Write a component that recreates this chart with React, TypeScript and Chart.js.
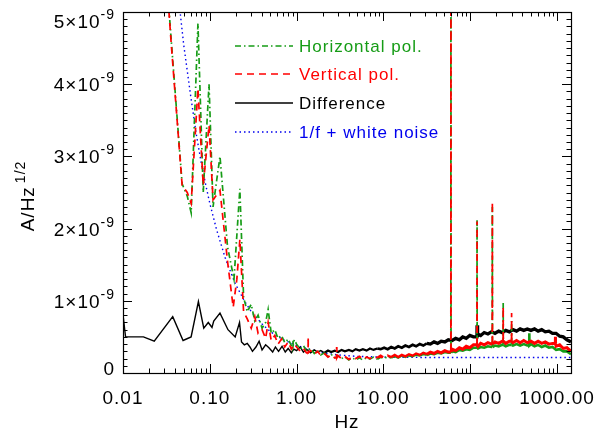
import React, { useEffect, useRef } from "react";
import { Chart, registerables } from "chart.js";
Chart.register(...registerables);

// Values in units of 1e-9 A/Hz^1/2, frequencies in Hz
const X_MIN = 0.01;
const X_MAX = 1450;
const Y_MIN = 0;
const Y_MAX = 5;

const X_TICK_VALUES = [0.01, 0.1, 1, 10, 100, 1000];
const X_TICK_LABELS = ["0.01", "0.10", "1.00", "10.00", "100.00", "1000.00"];
const Y_TICK_VALUES = [0, 1, 2, 3, 4, 5];
const Y_TICK_MANTISSA = ["0", "1", "2", "3", "4", "5"];

const SERIES_LABELS = ["Horizontal pol.", "Vertical pol.", "Difference", "1/f + white noise"];

const LOW_GREEN: [number, number][] = [
  [0.024, 7.5], [0.036, 4.6], [0.048, 2.62], [0.055, 2.45], [0.061, 2.22], [0.073, 4.84],
  [0.084, 2.5], [0.098, 4.0], [0.109, 2.3], [0.131, 3.0], [0.16, 1.75], [0.19, 1.3],
  [0.222, 2.55], [0.245, 1.05], [0.27, 0.85], [0.3, 0.95], [0.33, 0.72], [0.36, 0.8],
  [0.4, 0.62], [0.44, 0.7], [0.47, 0.88], [0.51, 0.55], [0.56, 0.6], [0.61, 0.48],
  [0.67, 0.52], [0.73, 0.42], [0.8, 0.47], [0.87, 0.38], [0.94, 0.46],
];
const LOW_RED: [number, number][] = [
  [0.024, 7.5], [0.036, 4.55], [0.048, 2.6], [0.055, 2.5], [0.061, 2.35], [0.073, 3.94],
  [0.084, 2.6], [0.098, 3.43], [0.109, 2.4], [0.131, 2.53], [0.16, 1.55], [0.186, 0.91],
  [0.205, 1.3], [0.222, 1.85], [0.245, 0.85], [0.27, 0.75], [0.3, 0.62], [0.33, 0.78],
  [0.36, 0.55], [0.4, 0.6], [0.44, 0.48], [0.47, 0.7], [0.51, 0.45], [0.56, 0.52],
  [0.61, 0.4], [0.67, 0.47], [0.73, 0.36], [0.8, 0.43], [0.87, 0.33], [0.94, 0.4],
];
const LOW_BLACK: [number, number][] = [
  [0.0098, 0.9], [0.0107, 0.5], [0.0172, 0.5], [0.0229, 0.44], [0.0374, 0.78], [0.0492, 0.45],
  [0.0609, 0.5], [0.0739, 0.99], [0.0852, 0.62], [0.096, 0.7], [0.106, 0.63], [0.111, 0.72],
  [0.131, 0.83], [0.162, 0.6], [0.196, 0.5], [0.22, 0.7], [0.232, 0.43], [0.25, 0.39],
  [0.27, 0.41], [0.29, 0.36], [0.31, 0.3], [0.34, 0.36], [0.37, 0.44], [0.4, 0.32],
  [0.44, 0.39], [0.48, 0.35], [0.53, 0.29], [0.57, 0.36], [0.62, 0.3], [0.68, 0.37],
  [0.74, 0.29], [0.8, 0.34], [0.87, 0.28], [0.93, 0.33],
];

const HF_FREQ = [
  1.0, 1.1, 1.2, 1.3, 1.45, 1.6, 1.75, 1.9, 2.1, 2.3, 2.5, 2.75, 3.0, 3.3, 3.6, 4.0, 4.4, 4.8,
  5.3, 5.8, 6.4, 7.0, 7.7, 8.5, 9.3, 10.2, 11.2, 12.3, 13.5, 14.8, 16.3, 17.9, 19.7, 21.7, 23.8,
  26.2, 28.8, 31.7, 34.8, 38.3, 42.1, 46.3, 51, 56, 62, 68, 75, 82, 90, 99, 109, 123, 132, 145,
  160, 176, 193, 213, 234, 257, 283, 311, 342, 376, 414, 455, 501, 551, 606, 667, 733, 807, 887,
  976, 1074, 1181, 1300, 1450,
];
const HF_RED = [
  0.36, 0.3, 0.34, 0.28, 0.31, 0.26, 0.3, 0.24, 0.27, 0.22, 0.25, 0.21, 0.24, 0.2, 0.23, 0.19, 0.22, 0.2,
  0.23, 0.19, 0.22, 0.2, 0.23, 0.21, 0.24, 0.21, 0.24, 0.22, 0.25, 0.22, 0.25, 0.23, 0.26, 0.24, 0.27,
  0.25, 0.28, 0.26, 0.29, 0.27, 0.3, 0.28, 0.31, 0.29, 0.33, 0.31, 0.35, 0.33, 0.37, 0.35, 0.39, 0.37, 0.41, 0.39,
  0.42, 0.4, 0.43, 0.41, 0.44, 0.41, 0.44, 0.42, 0.45, 0.42, 0.45, 0.42, 0.44, 0.41, 0.44, 0.41, 0.43, 0.4, 0.41,
  0.37, 0.39, 0.34, 0.35, 0.3,
];
const HF_GREEN = [
  0.4, 0.33, 0.38, 0.3, 0.34, 0.27, 0.31, 0.25, 0.28, 0.23, 0.26, 0.21, 0.24, 0.2, 0.22, 0.18, 0.21, 0.18,
  0.21, 0.18, 0.21, 0.19, 0.22, 0.19, 0.22, 0.2, 0.23, 0.21, 0.23, 0.21, 0.24, 0.22, 0.24, 0.23, 0.25,
  0.24, 0.26, 0.25, 0.27, 0.26, 0.28, 0.27, 0.29, 0.28, 0.3, 0.29, 0.32, 0.31, 0.33, 0.32, 0.35, 0.34, 0.36, 0.35,
  0.37, 0.36, 0.38, 0.37, 0.39, 0.37, 0.39, 0.38, 0.4, 0.38, 0.4, 0.38, 0.4, 0.37, 0.39, 0.36, 0.38, 0.35, 0.36,
  0.32, 0.33, 0.3, 0.3, 0.26,
];
const HF_BLACK = [
  0.31, 0.36, 0.29, 0.33, 0.28, 0.32, 0.29, 0.31, 0.28, 0.31, 0.29, 0.31, 0.29, 0.32, 0.3, 0.32, 0.3, 0.33,
  0.31, 0.33, 0.31, 0.34, 0.32, 0.34, 0.33, 0.35, 0.33, 0.36, 0.34, 0.37, 0.35, 0.38, 0.36, 0.39, 0.37,
  0.4, 0.38, 0.41, 0.4, 0.43, 0.41, 0.44, 0.43, 0.46, 0.45, 0.48, 0.46, 0.5, 0.48, 0.52, 0.5, 0.54, 0.52, 0.56,
  0.54, 0.57, 0.55, 0.58, 0.56, 0.59, 0.57, 0.6, 0.58, 0.61, 0.59, 0.61, 0.59, 0.61, 0.58, 0.6, 0.57, 0.58, 0.55,
  0.55, 0.51, 0.5, 0.46, 0.43,
];

const RED_SPIKES: [number, number][] = [
  [1.36, 0.5], [2.9, 0.36], [60, 7], [120, 2.1], [180, 2.37], [240, 0.92], [300, 0.83], [960, 0.5],
];
const GREEN_SPIKES: [number, number][] = [
  [0.91, 0.46], [60, 7], [120, 2.12], [180, 2.3], [240, 0.97], [300, 0.72], [480, 0.55],
];
const BLACK_SPIKES: [number, number][] = [[120, 0.66]];

const BLUE_MODEL: [number, number][] = [
  [0.04, 5.65], [0.045, 5.05], [0.05, 4.55], [0.06, 3.85], [0.07, 3.3], [0.08, 2.9], [0.09, 2.6],
  [0.1, 2.35], [0.12, 1.98], [0.15, 1.6], [0.18, 1.35], [0.2, 1.22], [0.25, 1.0], [0.3, 0.85],
  [0.4, 0.68], [0.5, 0.57], [0.7, 0.46], [1, 0.38], [1.5, 0.32], [2, 0.28], [3, 0.25], [5, 0.23],
  [10, 0.22], [30, 0.215], [100, 0.215], [1450, 0.215],
];

const GREEN = "#169c16";
const RED = "#ff0000";
const BLUE = "#0000ee";
const BLACK = "#000000";
const FONT = '"Liberation Sans", Arial, sans-serif';

function buildSeries(low: [number, number][], hfVals: number[], spikes: [number, number][]) {
  const pts: [number, number][] = [...low, ...HF_FREQ.map((f, i) => [f, hfVals[i]] as [number, number])];
  for (const [sf, peak] of spikes) {
    let idx = pts.findIndex((p) => p[0] > sf);
    if (idx < 0) idx = pts.length;
    const base = pts[Math.max(0, idx - 1)][1];
    pts.splice(idx, 0, [sf * 0.997, base], [sf, peak], [sf * 1.003, base]);
  }
  return pts.map(([x, y]) => ({ x, y }));
}

const notSpike = (c: any) => Math.max(c.p0.parsed.y, c.p1.parsed.y) < 0.7;
const bandWidth = (c: any, hi: number) => {
  const f = c.p0.parsed.x;
  if (!notSpike(c)) return undefined;
  if (f > 30) return hi;
  if (f > 8) return hi - 0.6;
  if (f > 2) return hi - 1.1;
  return undefined;
};

const axesPlugin = {
  id: "idlAxes",
  afterDatasetsDraw(chart: any) {
    const { ctx, chartArea } = chart;
    const { left, right, top, bottom } = chartArea;
    const xs = chart.scales.x;
    const ys = chart.scales.y;
    ctx.save();
    ctx.strokeStyle = "#000";
    ctx.fillStyle = "#000";
    ctx.lineWidth = 1.2;
    ctx.setLineDash([]);
    ctx.strokeRect(Math.round(left) + 0.5, Math.round(top) + 0.5, Math.round(right - left), Math.round(bottom - top));

    ctx.lineWidth = 1;
    ctx.beginPath();
    for (let d = 0.01; d <= 1000.0001; d *= 10) {
      for (let k = 1; k <= 9; k++) {
        const f = d * k;
        if (f < X_MIN - 1e-9 || f > X_MAX) continue;
        const px = Math.round(xs.getPixelForValue(f)) + 0.5;
        const len = k === 1 ? 9 : 4.5;
        ctx.moveTo(px, bottom);
        ctx.lineTo(px, bottom - len);
        ctx.moveTo(px, top);
        ctx.lineTo(px, top + len);
      }
    }
    for (let i = 0; i <= 50; i++) {
      const v = Y_MIN + i * 0.1;
      const py = Math.round(ys.getPixelForValue(v)) + 0.5;
      const len = i % 10 === 0 ? 9 : 4.5;
      ctx.moveTo(left, py);
      ctx.lineTo(left + len, py);
      ctx.moveTo(right, py);
      ctx.lineTo(right - len, py);
    }
    ctx.stroke();

    ctx.letterSpacing = "1px";
    ctx.font = `19px ${FONT}`;
    ctx.textAlign = "center";
    ctx.textBaseline = "alphabetic";
    X_TICK_VALUES.forEach((v, i) => {
      const px = xs.getPixelForValue(v);
      ctx.fillText(X_TICK_LABELS[i], px, 404);
    });
    ctx.fillText("Hz", (left + right) / 2, 428);

    ctx.textAlign = "left";
    Y_TICK_VALUES.forEach((v, i) => {
      let cy = ys.getPixelForValue(v);
      cy = Math.min(Math.max(cy, top + 9), bottom - 5);
      const main = v === 0 ? Y_TICK_MANTISSA[i] : `${Y_TICK_MANTISSA[i]}×10`;
      const sup = v === 0 ? "" : "-9";
      ctx.font = `19px ${FONT}`;
      const wMain = ctx.measureText(main).width;
      ctx.font = `14px ${FONT}`;
      const wSup = sup ? ctx.measureText(sup).width : 0;
      const rightEdge = 115;
      const x0 = rightEdge - wMain - wSup;
      ctx.font = `19px ${FONT}`;
      ctx.fillText(main, x0, cy + 7);
      if (sup) {
        ctx.font = `14px ${FONT}`;
        ctx.fillText(sup, x0 + wMain, cy - 2);
      }
    });

    ctx.save();
    ctx.translate(34, 196);
    ctx.rotate(-Math.PI / 2);
    ctx.font = `19px ${FONT}`;
    const tMain = "A/Hz";
    const wT = ctx.measureText(tMain).width;
    ctx.font = `14px ${FONT}`;
    const wS = ctx.measureText("1/2").width + 3;
    const sx = -(wT + wS) / 2;
    ctx.font = `19px ${FONT}`;
    ctx.fillText(tMain, sx, 0);
    ctx.font = `14px ${FONT}`;
    ctx.fillText("1/2", sx + wT + 3, -9);
    ctx.restore();

    const legend = [
      { color: GREEN, dash: [6, 3, 1.5, 3], width: 1.6, y: 46 },
      { color: RED, dash: [7, 5], width: 1.6, y: 74 },
      { color: BLACK, dash: [], width: 1.4, y: 103 },
      { color: BLUE, dash: [1.5, 3], width: 1.3, y: 132 },
    ];
    legend.forEach((l, i) => {
      ctx.beginPath();
      ctx.strokeStyle = l.color;
      ctx.lineWidth = l.width;
      ctx.setLineDash(l.dash);
      ctx.moveTo(235, l.y);
      ctx.lineTo(293, l.y);
      ctx.stroke();
      ctx.setLineDash([]);
      ctx.fillStyle = l.color;
      ctx.font = `17px ${FONT}`;
      ctx.textAlign = "left";
      ctx.fillText(SERIES_LABELS[i], 299, l.y + 6);
    });
    ctx.restore();
  },
};

export default function App() {
  const ref = useRef<HTMLCanvasElement | null>(null);
  useEffect(() => {
    if (!ref.current) return;
    const green = buildSeries(LOW_GREEN, HF_GREEN, GREEN_SPIKES);
    const red = buildSeries(LOW_RED, HF_RED, RED_SPIKES);
    const black = buildSeries(LOW_BLACK, HF_BLACK, BLACK_SPIKES);
    const blue = BLUE_MODEL.map(([x, y]) => ({ x, y }));
    const chart = new Chart(ref.current, {
      type: "line",
      data: {
        datasets: [
          {
            label: SERIES_LABELS[1], data: red, borderColor: RED, borderWidth: 1.7, borderDash: [7, 5],
            pointRadius: 0, tension: 0, fill: false,
            segment: {
              borderWidth: (c: any) => bandWidth(c, 3),
              borderDash: (c: any) => (c.p0.parsed.x > 12 && notSpike(c) ? [] : undefined),
            },
          },
          {
            label: SERIES_LABELS[0], data: green, borderColor: GREEN, borderWidth: 1.7, borderDash: [6, 3, 1.5, 3],
            pointRadius: 0, tension: 0, fill: false,
            segment: {
              borderWidth: (c: any) => bandWidth(c, 2.6),
              borderDash: (c: any) => (c.p0.parsed.x > 12 && notSpike(c) ? [] : undefined),
            },
          },
          {
            label: SERIES_LABELS[2], data: black, borderColor: BLACK, borderWidth: 1.4,
            pointRadius: 0, tension: 0, fill: false,
            segment: { borderWidth: (c: any) => bandWidth(c, 3.3) },
          },
          {
            label: SERIES_LABELS[3], data: blue, borderColor: BLUE, borderWidth: 1.4, borderDash: [1.5, 3],
            pointRadius: 0, tension: 0, fill: false,
          },
        ],
      },
      options: {
        responsive: false,
        animation: false,
        layout: { padding: { left: 123, right: 32, top: 12, bottom: 61 } },
        plugins: { legend: { display: false }, tooltip: { enabled: false } },
        scales: {
          x: { type: "logarithmic", min: X_MIN, max: X_MAX, display: false },
          y: { type: "linear", min: Y_MIN, max: Y_MAX, display: false },
        },
      },
      plugins: [axesPlugin],
    });
    return () => chart.destroy();
  }, []);
  return (
    <div style={{ position: "absolute", left: 0, top: 0, width: 603, height: 434, background: "#fff" }}>
      <canvas ref={ref} width={603} height={434} style={{ display: "block" }} />
    </div>
  );
}
